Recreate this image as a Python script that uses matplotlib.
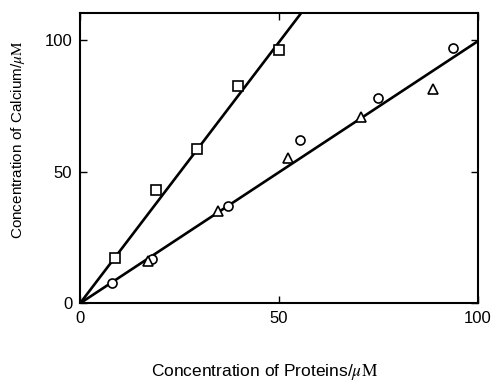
import matplotlib
matplotlib.use("Agg")
import matplotlib.pyplot as plt

plt.rcParams['font.family'] = ['Liberation Sans', 'DejaVu Sans']
plt.rcParams['mathtext.fontset'] = 'stix'

# Messpunkte
sq_x = [8.8, 19.1, 29.3, 39.7, 50.0]
sq_y = [17.1, 42.9, 58.6, 82.3, 96.2]

circ_x = [8.1, 18.0, 37.3, 55.3, 75.0, 93.8]
circ_y = [7.8, 17.0, 37.1, 62.0, 78.1, 96.8]

tri_x = [17.2, 34.8, 52.2, 70.5, 88.8]
tri_y = [16.0, 35.0, 55.2, 70.8, 81.2]

# Regressionsgeraden
fit1_x = [0, 55.5]
fit1_y = [0, 110]
fit2_x = [0, 100]
fit2_y = [0, 99.5]

fig = plt.figure(figsize=(4.95, 3.84), dpi=100)
ax = fig.add_axes([0.1616, 0.210, 0.804, 0.755])

ax.plot(fit1_x, fit1_y, color='black', lw=1.9, solid_capstyle='butt')
ax.plot(fit2_x, fit2_y, color='black', lw=1.9, solid_capstyle='butt')

mk = dict(linestyle='none', mfc='white', mec='black', mew=1.2, zorder=3)
ax.plot(sq_x, sq_y, marker='s', ms=6.5, **mk)
ax.plot(circ_x, circ_y, marker='o', ms=6.5, **mk)
ax.plot(tri_x, tri_y, marker='^', ms=7, **mk)

ax.set_xlim(0, 100)
ax.set_ylim(0, 110)
ax.set_xticks([0, 50, 100])
ax.set_yticks([0, 50, 100])
ax.tick_params(direction='in', top=True, right=True, length=5, width=1,
               labelsize=12, pad=5.5)
for s in ax.spines.values():
    s.set_linewidth(1.5)

ax.set_xlabel(r'Concentration of Proteins/$\mu\mathrm{M}$', fontsize=12.5)
ax.set_ylabel(r'Concentration of Calcium/$\mu\mathrm{M}$', fontsize=11)
ax.xaxis.set_label_coords(0.4636, -0.237)
ax.xaxis.label.set_va('center')
ax.yaxis.set_label_coords(-0.156, 0.563)
ax.yaxis.label.set_va('center')

plt.savefig("out.png", dpi=100)
